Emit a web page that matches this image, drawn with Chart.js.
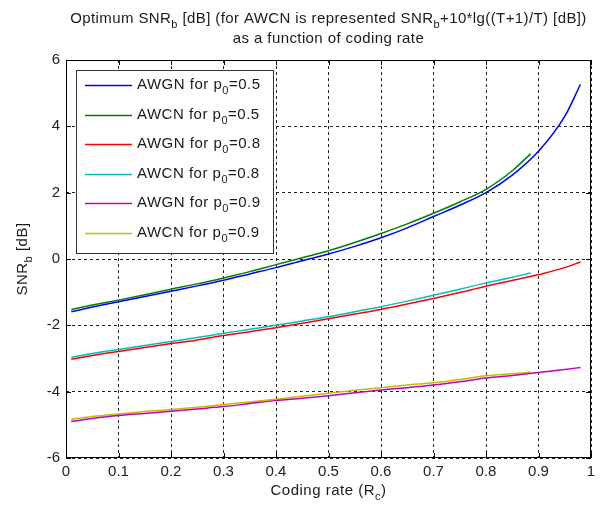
<!DOCTYPE html>
<html>
<head>
<meta charset="utf-8">
<script src="https://cdn.jsdelivr.net/npm/chart.js@4.4.1/dist/chart.umd.min.js"></script>
<style>
  body { margin: 0; background: #fff; }
  canvas { display: block; }
</style>
</head>
<body>
<canvas id="grafica" width="602" height="506"></canvas>
<script>
// coding rates (x) for each family of curves
const rateAwgn = [0.01, 0.05, 0.1, 0.15, 0.2, 0.25, 0.3, 0.35, 0.4, 0.45, 0.5, 0.55, 0.6, 0.65, 0.7, 0.75, 0.8, 0.85, 0.9, 0.95, 0.98];
const rateAwcn = [0.01, 0.05, 0.1, 0.15, 0.2, 0.25, 0.3, 0.35, 0.4, 0.45, 0.5, 0.55, 0.6, 0.65, 0.7, 0.75, 0.8, 0.85, 0.885];

// SNRb [dB]
const awgn05 = [-1.59, -1.45, -1.29, -1.13, -0.97, -0.81, -0.64, -0.45, -0.26, -0.05, 0.15, 0.38, 0.64, 0.94, 1.28, 1.62, 2.0, 2.53, 3.25, 4.3, 5.27];
const awcn05 = [-1.52, -1.39, -1.24, -1.08, -0.91, -0.75, -0.57, -0.38, -0.17, 0.04, 0.25, 0.5, 0.77, 1.06, 1.38, 1.72, 2.1, 2.66, 3.17];
const awgn08 = [-3.02, -2.91, -2.79, -2.67, -2.55, -2.44, -2.31, -2.19, -2.07, -1.94, -1.8, -1.66, -1.52, -1.36, -1.19, -1.01, -0.82, -0.65, -0.47, -0.26, -0.09];
const awcn08 = [-2.96, -2.85, -2.73, -2.61, -2.49, -2.37, -2.24, -2.12, -2.0, -1.87, -1.74, -1.59, -1.44, -1.27, -1.09, -0.91, -0.72, -0.55, -0.42];
const awgn09 = [-4.9, -4.81, -4.72, -4.66, -4.59, -4.52, -4.45, -4.36, -4.27, -4.2, -4.12, -4.03, -3.95, -3.88, -3.8, -3.7, -3.59, -3.51, -3.42, -3.33, -3.27];
const awcn09 = [-4.83, -4.75, -4.67, -4.6, -4.54, -4.47, -4.39, -4.31, -4.23, -4.14, -4.05, -3.96, -3.88, -3.8, -3.73, -3.63, -3.52, -3.46, -3.41];

const canales = ['AWGN', 'AWCN', 'AWGN', 'AWCN', 'AWGN', 'AWCN'];
const probs = ['0.5', '0.5', '0.8', '0.8', '0.9', '0.9'];
const colores = ['#0000ff', '#008000', '#ff0000', '#00bfbf', '#bf00bf', '#bfbf00'];

const xTickLabels = ['0', '0.1', '0.2', '0.3', '0.4', '0.5', '0.6', '0.7', '0.8', '0.9', '1'];
const yTickLabels = ['-6', '-4', '-2', '0', '2', '4', '6'];

const FONT = '"Liberation Sans", Arial, sans-serif';

const puntos = (xs, ys) => xs.map((x, i) => ({ x: x, y: ys[i] }));
const series = [
    puntos(rateAwgn, awgn05), puntos(rateAwcn, awcn05),
    puntos(rateAwgn, awgn08), puntos(rateAwcn, awcn08),
    puntos(rateAwgn, awgn09), puntos(rateAwcn, awcn09)
];

// texto con subindices: partes = [[texto, esSub], ...]
const medirRico = (ctx, partes, size) => {
    let w = 0;
    partes.forEach(([t, sub]) => {
        ctx.font = (sub ? Math.round(size * 0.72) : size) + 'px ' + FONT;
        w += ctx.measureText(t).width;
    });
    return w;
};
const dibujarRico = (ctx, partes, x, y, size, align, espacio) => {
    ctx.letterSpacing = (espacio || 0) + 'px';
    let w = medirRico(ctx, partes, size);
    let cx = align === 'center' ? x - w / 2 : x;
    ctx.textBaseline = 'alphabetic';
    ctx.textAlign = 'left';
    partes.forEach(([t, sub]) => {
        ctx.font = (sub ? Math.round(size * 0.72) : size) + 'px ' + FONT;
        ctx.fillText(t, cx, sub ? y + size * 0.3 : y);
        cx += ctx.measureText(t).width;
    });
    ctx.letterSpacing = '0px';
};

const decoracion = {
    id: 'decoracion',
    beforeDraw: (chart) => {
        const ctx = chart.ctx;
        ctx.save();
        ctx.fillStyle = '#fff';
        ctx.fillRect(0, 0, chart.width, chart.height);
        ctx.restore();
    },
    afterDatasetsDraw: (chart) => {
        const ctx = chart.ctx;
        const a = chart.chartArea;
        const xs = chart.scales.x, ys = chart.scales.y;
        ctx.save();
        // marco
        ctx.strokeStyle = '#000';
        ctx.lineWidth = 1;
        ctx.strokeRect(a.left + 0.5, a.top + 0.5, a.right - a.left - 1, a.bottom - a.top - 1);
        // marcas hacia adentro
        ctx.beginPath();
        xs.ticks.forEach(t => {
            let px = Math.round(xs.getPixelForValue(t.value)) + 0.5;
            ctx.moveTo(px, a.bottom); ctx.lineTo(px, a.bottom - 5);
            ctx.moveTo(px, a.top); ctx.lineTo(px, a.top + 5);
        });
        ys.ticks.forEach(t => {
            let py = Math.round(ys.getPixelForValue(t.value)) + 0.5;
            ctx.moveTo(a.left, py); ctx.lineTo(a.left + 5, py);
            ctx.moveTo(a.right, py); ctx.lineTo(a.right - 5, py);
        });
        ctx.stroke();

        // leyenda
        const lx = 76, ly = 70, lw = 197, lh = 183;
        ctx.fillStyle = '#fff';
        ctx.fillRect(lx, ly, lw, lh);
        ctx.strokeStyle = '#333';
        ctx.strokeRect(lx + 0.5, ly + 0.5, lw, lh);
        ctx.fillStyle = '#1a1a1a';
        canales.forEach((c, i) => {
            let y = Math.round(85 + i * 29.5);
            ctx.strokeStyle = colores[i];
            ctx.lineWidth = 1.5;
            ctx.beginPath();
            ctx.moveTo(85, y + 0.5);
            ctx.lineTo(132, y + 0.5);
            ctx.stroke();
            dibujarRico(ctx, [[c + ' for p', 0], ['0', 1], ['=' + probs[i], 0]], 137, y + 4, 15, 'left', 0.5);
        });
        ctx.restore();
    },
    afterDraw: (chart) => {
        const ctx = chart.ctx;
        const a = chart.chartArea;
        const cx = (a.left + a.right) / 2;
        ctx.save();
        ctx.fillStyle = '#1a1a1a';
        dibujarRico(ctx, [['Optimum SNR', 0], ['b', 1], [' [dB] (for AWCN is represented SNR', 0], ['b', 1], ['+10*lg((T+1)/T) [dB])', 0]], cx, 23, 15, 'center', 0.4);
        dibujarRico(ctx, [['as a function of coding rate', 0]], cx, 43, 15, 'center', 0.4);
        dibujarRico(ctx, [['Coding rate (R', 0], ['c', 1], [')', 0]], cx, 495, 15, 'center', 0.5);
        ctx.translate(27, (a.top + a.bottom) / 2);
        ctx.rotate(-Math.PI / 2);
        dibujarRico(ctx, [['SNR', 0], ['b', 1], [' [dB]', 0]], 0, 0, 15, 'center', 0.5);
        ctx.restore();
    }
};

const ctx = document.getElementById('grafica').getContext('2d');
const chart = new Chart(ctx, {
    type: 'line',
    data: {
        datasets: series.map((d, i) => ({
            label: canales[i] + ' for p0=' + probs[i],
            data: d,
            borderColor: colores[i],
            borderWidth: 1.5,
            pointRadius: 0,
            fill: false,
            cubicInterpolationMode: 'monotone'
        }))
    },
    options: {
        responsive: false,
        animation: false,
        devicePixelRatio: 1,
        layout: { padding: { left: 0, top: 60, right: 11, bottom: 0 } },
        plugins: { legend: { display: false }, title: { display: false }, tooltip: { enabled: false } },
        scales: {
            x: {
                type: 'linear',
                min: 0,
                max: 1,
                afterFit: (s) => { s.height = 48; },
                ticks: {
                    stepSize: 0.1,
                    padding: 5,
                    color: '#222',
                    font: { family: FONT, size: 15 },
                    callback: (v, i) => xTickLabels[i]
                },
                grid: { color: '#222', lineWidth: 1, drawTicks: false },
                border: { display: false, dash: [3, 3] }
            },
            y: {
                min: -6,
                max: 6,
                afterFit: (s) => { s.width = 66; },
                ticks: {
                    stepSize: 2,
                    padding: 6,
                    color: '#222',
                    font: { family: FONT, size: 15 },
                    callback: (v, i) => yTickLabels[i]
                },
                grid: { color: '#222', lineWidth: 1, drawTicks: false },
                border: { display: false, dash: [3, 3] }
            }
        }
    },
    plugins: [decoracion]
});
</script>
</body>
</html>
